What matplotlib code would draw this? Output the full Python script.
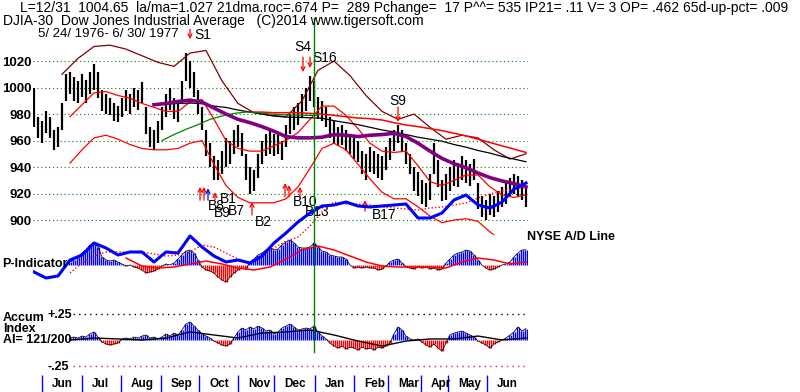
import numpy as np
import matplotlib
matplotlib.use("Agg")
import matplotlib.pyplot as plt
from matplotlib.lines import Line2D
from matplotlib.transforms import blended_transform_factory

plt.rcParams['font.family'] = ['Liberation Sans', 'DejaVu Sans']

# ---------------- data (x = trading-bar slot, 5/24/1976 .. 6/30/1977) ----------------
hi = [1000, 978, 975, 982, 978, 968, 970, 988, 1010, 1012,
      1008, 1005, 1010, 1006, 1012, 1018, 1012, 998, 995, 992,
      988, 986, 992, 998, 995, 1000, 998, 1004, 985, 970,
      968, 975, 985, 995, 1000, 992, 990, 1005, 1026, 1020,
      1012, 998, 985, 968, 958, 948, 945, 952, 962, 960,
      968, 972, 966, 950, 940, 938, 950, 960, 965, 968,
      965, 966, 960, 972, 980, 985, 988, 995, 1000, 1009,
      1005, 993, 990, 985, 978, 975, 970, 972, 968, 965,
      962, 960, 952, 950, 955, 952, 950, 948, 955, 962,
      968, 972, 968, 958, 950, 940, 936, 930, 928, 935,
      958, 945, 930, 935, 940, 945, 943, 948, 945, 942,
      946, 928, 918, 915, 920, 918, 922, 925, 928, 932,
      935, 933, 930, 925]
lo = [970, 962, 958, 966, 962, 953, 955, 968, 990, 995,
      990, 988, 993, 988, 995, 998, 992, 982, 980, 979,
      975, 974, 978, 982, 980, 985, 983, 988, 965, 955,
      953, 958, 968, 978, 983, 976, 974, 988, 1005, 1000,
      993, 980, 968, 948, 940, 930, 930, 935, 940, 942,
      950, 955, 948, 930, 920, 922, 932, 942, 948, 950,
      948, 950, 945, 955, 965, 968, 972, 978, 982, 990,
      985, 976, 975, 970, 962, 958, 956, 957, 952, 950,
      946, 944, 935, 930, 936, 935, 932, 930, 938, 945,
      952, 958, 952, 942, 935, 922, 918, 912, 910, 915,
      935, 925, 914, 915, 922, 926, 925, 930, 928, 926,
      930, 908, 902, 900, 904, 902, 906, 910, 912, 918,
      920, 918, 915, 910]

# outer (dark red) band, every 4 bars from bar 7
outer_band = [1010, 1022, 1031, 1032, 1029, 1024, 1019, 1016, 1026, 1028,
              1005, 988, 981, 979, 978, 990, 1013, 1020, 1009, 994,
              982, 976, 980, 970, 961, 964, 962, 953, 946, 950]
# 21-day bands, every 3 bars from bar 9
upper_band = [978, 987, 996, 997, 994, 992, 988, 985, 982, 982,
              989, 991, 976, 960, 954, 952, 952, 956, 960, 966,
              976, 986, 986, 979, 969, 958, 952, 951, 952, 941,
              929, 926, 930, 934, 934, 925, 919, 917, 919]
lower_band = [943, 953, 962, 964, 961, 957, 954, 953, 953, 954,
              958, 960, 942, 926, 917, 913, 913, 913, 916, 925,
              939, 954, 958, 953, 942, 931, 921, 916, 916, 910,
              903, 898, 900, 901, 899, 891, 884, 880, 878]
# 65-day ma (purple) and long ma (black), every 3 bars from bar 30
ma65 = [987, 988, 989.5, 990.5, 989, 984.5, 980, 976, 973.5, 970.5,
        967, 963, 962, 962, 962.5, 964.5, 964, 963, 964, 964.5,
        965.5, 963, 958, 952, 946.5, 942.5, 939.5, 935.5, 932, 929.5,
        927.5, 925]
ma_long = [987, 987.5, 988, 988.3, 987.8, 986, 985, 983, 981.5, 980,
           978.5, 977.7, 977.5, 977.2, 976.8, 975, 973.5, 972, 970, 968,
           966.5, 964.5, 962.5, 961, 959.5, 957, 955, 952.5, 950.5, 948,
           946, 944]
# green ma, every 3 bars from bar 32
ma_green = [960, 964.5, 968.5, 972, 976, 978.5, 980.5, 981.5, 981, 980,
            979.5, 979.2, 979, 979]
# red long ma, every 3 bars from bar 54
ma_red = [981.5, 981.5, 981, 981, 981, 980.5, 980, 979, 978, 977,
          976.5, 975.5, 973.5, 971.7, 970.5, 969, 967.5, 965.5, 963.5, 961,
          958.5, 956, 953.5, 951]

# NYSE A/D line every 3 bars from bar 0, and its ma (dotted) from bar 9
ad_line = [560, 440, 480, 800, 900, 1140, 1040, 900, 960, 960,
           760, 960, 940, 1280, 1060, 880, 760, 800, 740, 880,
           1140, 1340, 1560, 1740, 1880, 1900, 1960, 1880, 1860, 1880,
           1900, 1920, 1640, 1640, 1740, 2000, 2100, 1900, 1840, 1960,
           2220, 2340]
ad_ma = [540, 740, 880, 960, 960, 960, 960, 920, 880, 900,
         960, 1100, 1060, 940, 820, 740, 880, 1040, 1180, 1260,
         1480, 1760, 1960, 1920, 1920, 1900, 1860, 1840, 1820, 1800,
         1840, 1860, 1900, 1940, 2040, 2120, 2180, 2220, 2260]

# P-Indicator from bar 9, its red ma every 4 bars from bar 23
p_ind = [57, 95, 152, 228, 285, 380, 418, 342, 152, 95,
         76, 95, 57, 19, -19, 0, -38, -57, -95, -152,
         -133, -114, -76, -19, 19, 0, 38, 114, 190, 266,
         285, 228, 95, -38, -95, -114, -152, -228, -285, -323,
         -228, -152, -95, -57, -76, 57, 114, 190, 228, 285,
         323, 285, 304, 380, 437, 475, 418, 342, 323, 323,
         342, 418, 342, 266, 247, 190, 171, 152, 152, 114,
         0, -57, -38, -57, -38, -57, -57, -95, -76, -19,
         57, 95, 114, 38, -38, -57, -76, -38, -57, -38,
         -76, -57, -95, -76, 38, 114, 190, 228, 247, 285,
         266, 190, 95, 0, -57, -95, -76, -38, 0, 19,
         57, 152, 228, 285, 289]
p_ma = [133, -19, -57, -38, 19, 76, 19, -57, -95, -38,
        114, 285, 361, 285, 171, 57, -19, -38, -38, -38,
        -57, 57, 133, 95, 19, 57]

# Accumulation index from bar 9, its ma every 6 bars from bar 9
accum = [.019, .029, .019, .038, .029, .058, .077, .029, -.019, -.038,
         -.048, -.038, -.029, .010, .019, .010, .029, .019, .038, .048,
         .019, .029, .010, .029, .058, .038, .067, .048, .096, .154,
         .173, .134, .096, .058, .038, .019, -.010, -.029, -.048, -.058,
         -.038, .019, .077, .115, .096, .125, .106, .134, .115, .086,
         .096, .058, .077, .115, .134, .154, .125, .096, .106, .115,
         .106, .134, .077, .038, .010, -.029, -.058, -.077, -.058, -.086,
         -.067, -.077, -.096, -.067, -.086, -.077, -.096, -.067, -.077, -.058,
         -.029, .058, .125, .096, .038, .010, 0, .010, -.019, -.048,
         -.067, -.038, -.077, -.106, -.029, .048, .067, .077, .086, .067,
         .048, .029, -.010, -.029, -.048, -.077, -.038, -.019, 0, .019,
         .048, .077, .125, .086, .11]
accum_ma = [0, .019, .010, 0, .019, .077, .048, .019, .067, .077,
            .096, .048, -.010, -.058, -.010, .010, .010, .038, 0, .019]

months = ['Jun', 'Jul', 'Aug', 'Sep', 'Oct', 'Nov', 'Dec',
          'Jan', 'Feb', 'Mar', 'Apr', 'May', 'Jun']
month_bar = [2, 12, 21.75, 31.75, 41.25, 51, 60, 70.25, 80, 88.5, 96.75, 103.5, 113.25]
cursor_bar = 70
price_levels = [900, 920, 940, 960, 980, 1000, 1020]

# signals: name, bar, arrow tip price, arrow tail price
sell_sig = [("S1", 39, 1036.5, 1044), ("S4", 67.25, 1011.7, 1023),
            ("S16", 69, 1014.7, 1023), ("S9", 91, 974, 985.3)]
# buy arrows: bar, tip price, tail price, colour
buy_arrows = [(41.5, 925, 915, 'red'), (42.5, 925, 915, 'red'), (43.5, 924, 915, 'blue'),
              (45.25, 921, 915, 'red'), (54.5, 913.6, 903.8, 'red'), (62.75, 928, 917.4, 'red'),
              (63.75, 926.4, 917.4, 'red'), (66.5, 925, 917.4, 'red'), (82.75, 915, 906.8, 'red')]

title1 = ("L=12/31  1004.65  la/ma=1.027 21dma.roc=.674 P=  289 Pchange=  17 "
          "P^^= 535 IP21= .11 V= 3 OP= .462 65d-up-pct= .009")
title2 = "DJIA-30  Dow Jones Industrial Average   (C)2014 www.tigersoft.com"
title3 = "5/ 24/ 1976- 6/ 30/ 1977"

# ---------------- layout ----------------
W, H = 800, 392
fig = plt.figure(figsize=(W / 100, H / 100), dpi=100)
fig.patch.set_facecolor('white')


def panel(top, bottom, left=33, right=528):
    a = fig.add_axes([left / W, 1 - bottom / H, (right - left) / W, (bottom - top) / H])
    a.set_xlim(-0.25, 123.5)
    a.patch.set_alpha(0)
    for s in a.spines.values():
        s.set_visible(False)
    a.set_xticks([])
    a.set_yticks([])
    return a


def ftext(x, y, s, **kw):
    fig.text(x / W, 1 - y / H, s, va='center', **kw)


BLUE, RED, GREEN, MAROON, PURPLE = '#0000ff', '#ff0000', '#008000', '#800000', '#800080'

# price panel
ax = panel(38, 235)
ax.set_ylim(888.7, 1037.4)
for p in price_levels:
    ax.axhline(p, color=GREEN, lw=0.8, ls=(0, (1, 2.5)))
ax.set_yticks(price_levels)
ax.set_yticklabels([str(p) for p in price_levels], fontsize=9.5, fontweight='bold')
ax.tick_params(axis='y', length=0, pad=1)

bars = np.arange(len(hi))
ax.vlines(bars, lo, hi, color='black', lw=1.6)
ax.plot(np.arange(7, 7 + 4 * len(outer_band), 4), outer_band, color=MAROON, lw=0.9)
ax.plot(np.arange(9, 9 + 3 * len(upper_band), 3), upper_band, color=RED, lw=0.9)
ax.plot(np.arange(9, 9 + 3 * len(lower_band), 3), lower_band, color=RED, lw=0.9)
ax.plot(np.arange(54, 54 + 3 * len(ma_red), 3), ma_red, color=RED, lw=1.1)
ax.plot(np.arange(30, 30 + 3 * len(ma_long), 3), ma_long, color='black', lw=0.9)
ax.plot(np.arange(32, 32 + 3 * len(ma_green), 3), ma_green, color=GREEN, lw=0.9)
ax.plot(np.arange(30, 30 + 3 * len(ma65), 3), ma65, color=PURPLE, lw=2.6)

arrow_kw = dict(arrowstyle='->', lw=0.9, shrinkA=0, shrinkB=0, mutation_scale=7)
for name, b, tip, tail in sell_sig:
    ax.annotate('', xy=(b, tip), xytext=(b, tail), annotation_clip=False,
                arrowprops=dict(color=RED, **arrow_kw))
for b, tip, tail, c in buy_arrows:
    ax.annotate('', xy=(b, tip), xytext=(b, tail), annotation_clip=False,
                arrowprops=dict(color=c, **arrow_kw))

# signal labels (bar, price, horizontal alignment)
sig_labels = [("S1", 40, 1040, 'left'), ("S4", 67.3, 1030.6, 'center'),
              ("S16", 69.5, 1022.3, 'left'), ("S9", 91, 989.8, 'center'),
              ("B8", 43.5, 910.5, 'left'), ("B1", 46.5, 915.5, 'left'),
              ("B9", 45.0, 905.5, 'left'), ("B7", 48.5, 906.5, 'left'),
              ("B2", 55.25, 898.5, 'left'), ("B10", 64.75, 913.6, 'left'),
              ("B13", 67.75, 906, 'left'), ("B17", 84.5, 903.8, 'left')]
for s, b, p, ha in sig_labels:
    ax.text(b, p, s, fontsize=10, ha=ha, va='center', clip_on=False)

# P-Indicator panel
axp = panel(230, 300)
axp.set_ylim(-665, 665)
pb = np.arange(9, 9 + len(p_ind))
pv = np.array(p_ind)
pcol = [BLUE if v >= 0 else RED for v in pv]
for off in (-0.25, 0.25):
    axp.vlines(pb + off, 0, pv, colors=pcol, lw=1.0)
axp.plot(pb, pv, color='black', lw=0.55)
axp.plot(np.arange(23, 23 + 4 * len(p_ma), 4), p_ma, color=RED, lw=1.1)

# Accumulation panel
axa = panel(305, 372)
axa.set_ylim(-0.3072, 0.336)
ab = np.arange(9, 9 + len(accum))
av = np.array(accum)
acol = [BLUE if v >= 0 else RED for v in av]
axa.hlines(0.25, 9.75, 123.25, color='black', lw=1.0, ls=(0, (1, 3)))
axa.hlines(-0.25, 9.75, 123.25, color='#d02070', lw=1.0, ls=(0, (1, 3)))
for off in (-0.25, 0.25):
    axa.vlines(ab + off, 0, av, colors=acol, lw=1.0)
axa.plot(ab, av, color='black', lw=0.55)
axa.plot(np.arange(9, 9 + 6 * len(accum_ma), 6), accum_ma, color='black', lw=1.0)

# NYSE A/D line overlay
axd = panel(175, 290)
axd.set_ylim(200, 2500)
axd.plot(np.arange(9, 9 + 3 * len(ad_ma), 3), ad_ma, color=RED, lw=1.0, ls=(0, (1, 1.5)))
axd.plot(np.arange(0, 3 * len(ad_line), 3), ad_line, color=BLUE, lw=2.2)

# month axis
axm = panel(375, 392)
axm.set_ylim(0, 1)
axm.vlines(month_bar, 0, 1, color=BLUE, lw=1.0)
for m, b in zip(months, month_bar):
    axm.annotate(m, xy=(b, 0.45), xytext=(10, 0), textcoords='offset pixels',
                 fontsize=8.5, fontweight='bold', va='center', ha='left')

# cursor line across panels
tr = blended_transform_factory(ax.transData, fig.transFigure)
fig.add_artist(Line2D([cursor_bar, cursor_bar], [1 - 18 / H, 1 - 352 / H],
                      transform=tr, color=GREEN, lw=1.0))

# texts
ftext(20, 8, title1, fontsize=10)
ftext(3, 21, title2, fontsize=10)
ftext(38, 34, title3, fontsize=9.5)
ftext(527, 237, "NYSE A/D Line", fontsize=9, fontweight='bold')
ftext(2, 264, "P-Indicator", fontsize=9, fontweight='bold')
ftext(3, 318, "Accum", fontsize=9, fontweight='bold')
ftext(3, 329, "Index", fontsize=9, fontweight='bold')
ftext(3, 340, "AI= 121/200", fontsize=9, fontweight='bold')
ftext(47, 315, "+.25", fontsize=9, fontweight='bold')
ftext(47, 367, "-.25", fontsize=9, fontweight='bold')

fig.savefig("out.png", dpi=100)
